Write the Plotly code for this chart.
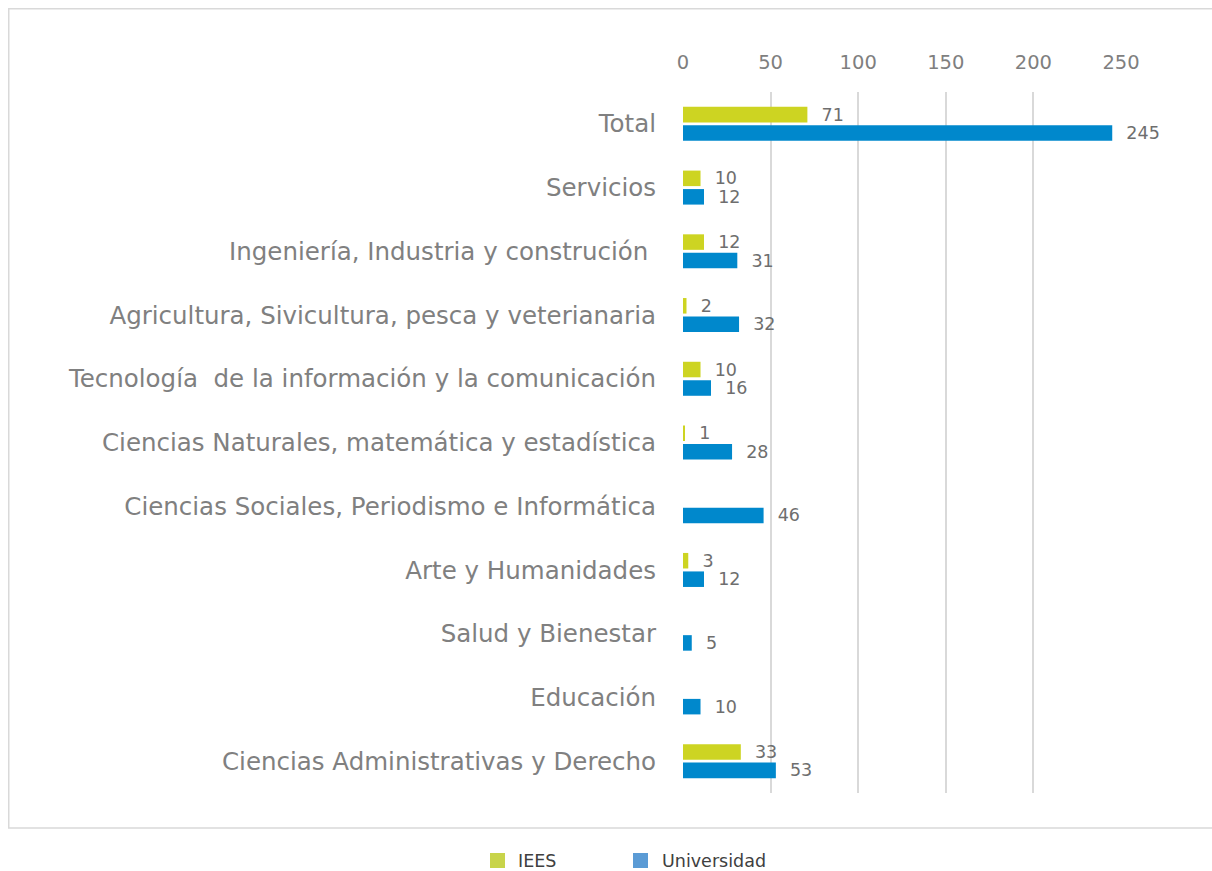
import plotly.graph_objects as go

categories = [
    "Total",
    "Servicios",
    "Ingeniería, Industria y construción ",
    "Agricultura, Sivicultura, pesca y veterianaria",
    "Tecnología  de la información y la comunicación",
    "Ciencias Naturales, matemática y estadística",
    "Ciencias Sociales, Periodismo e Informática",
    "Arte y Humanidades",
    "Salud y Bienestar",
    "Educación",
    "Ciencias Administrativas y Derecho",
]
iees = [71, 10, 12, 2, 10, 1, None, 3, None, None, 33]
universidad = [245, 12, 31, 32, 16, 28, 46, 12, 5, 10, 53]
x_ticks = [0, 50, 100, 150, 200, 250]
series_names = ["IEES", "Universidad"]
bar_colors = ["#cdd422", "#0088cc"]
legend_colors = ["#c8d44a", "#5b9bd5"]

FONT = "DejaVu Sans"
W, H = 1212, 871
L, R, T, B = 683, 1121, 92, 793
PW, PH = R - L, B - T


def px(xpix):
    return (xpix - L) / PW


def py(ypix):
    return (B - ypix) / PH


def lab(v):
    return "" if v is None else "\u00a0\u00a0" + str(v)


fig = go.Figure()
for name, vals, col in zip(series_names, [iees, universidad], bar_colors):
    fig.add_trace(go.Bar(
        y=categories, x=vals, name=name, orientation="h",
        marker=dict(color=col, line=dict(width=0)),
        text=[lab(v) for v in vals],
        textposition="outside", constraintext="none",
        textfont=dict(size=17.5, color="#6e6e6e", family=FONT),
        cliponaxis=False, showlegend=False,
    ))

shapes = [dict(type="rect", xref="paper", yref="paper",
               x0=px(8.75), x1=px(1240),
               y0=py(828), y1=py(8.75),
               line=dict(color="#d9d9d9", width=1.5), fillcolor="rgba(0,0,0,0)",
               layer="below")]
annotations = []
legend_items = [(490, 516), (633, 660)]
for (sx, tx), name, col in zip(legend_items, series_names, legend_colors):
    shapes.append(dict(type="rect", xref="paper", yref="paper",
                       x0=px(sx), x1=px(sx + 15), y0=py(868), y1=py(853),
                       line=dict(width=0), fillcolor=col))
    annotations.append(dict(xref="paper", yref="paper", x=px(tx), y=py(861),
                            xanchor="left", yanchor="middle", text=name,
                            showarrow=False,
                            font=dict(size=17.5, color="#404040", family=FONT)))

fig.update_layout(
    width=W, height=H,
    margin=dict(l=L, r=W - R, t=T, b=H - B, pad=0),
    paper_bgcolor="white", plot_bgcolor="white",
    barmode="group", bargap=0.42, bargroupgap=0.16,
    font=dict(family=FONT, color="#7f7f7f"),
    showlegend=False,
    shapes=shapes, annotations=annotations,
)
fig.update_xaxes(
    side="top", range=[0, 250], tickvals=x_ticks,
    showgrid=True, gridcolor="#d9d9d9", gridwidth=1.5,
    zeroline=False, showline=False,
    tickfont=dict(size=19.5, color="#7f7f7f", family=FONT),
    ticklabelstandoff=18,
)
fig.update_yaxes(
    autorange="reversed", categoryorder="array", categoryarray=categories,
    showgrid=False, zeroline=False, showline=False,
    tickfont=dict(size=24.5, color="#808080", family=FONT),
    ticklabelstandoff=26,
)

fig.write_html(
    "out.html",
    config={"displayModeBar": False},
    post_script="document.body.style.margin='0';document.body.style.overflow='hidden';",
)
